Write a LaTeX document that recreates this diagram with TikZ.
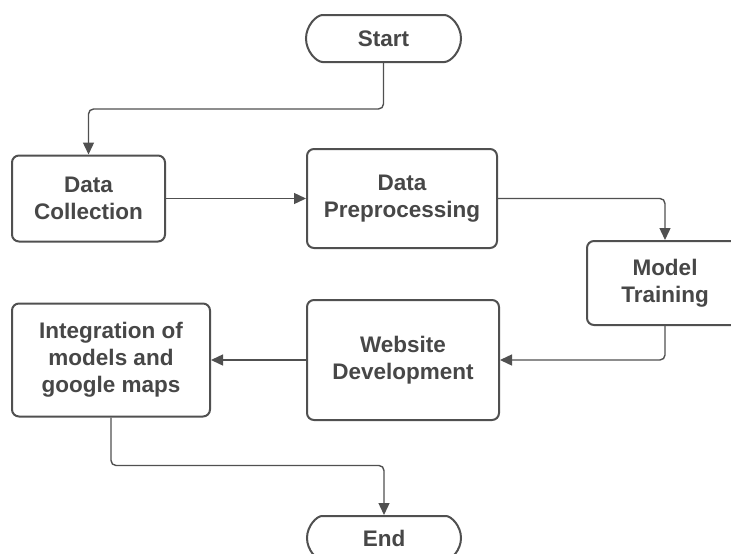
\documentclass[tikz,border=0pt]{standalone}
\usepackage{fontspec}
\setmainfont{Liberation Sans}
\usepackage{tikz}
\usetikzlibrary{arrows.meta, positioning, shapes.misc}

\definecolor{boxline}{HTML}{505050}
\definecolor{boxtext}{HTML}{474747}

\tikzset{
    stepbox/.style={draw=boxline, line width=2pt, rounded corners=7pt, fill=white,
        align=center, inner sep=0pt, text=boxtext,
        font=\fontsize{22.5}{27}\selectfont\bfseries},
    terminal/.style={stepbox, rounded rectangle},
    flow/.style={draw=boxline, line width=1.4pt, rounded corners=5pt,
        -{Triangle[length=12pt,width=11pt]}}
}

\begin{document}
\begin{tikzpicture}[x=1pt, y=-1pt]
            \useasboundingbox (0,0) rectangle (731,554);
            \clip (0,0) rectangle (731,554);

            % Terminals
            \node[terminal, minimum width=155pt, minimum height=47pt] (start) at (383.5,38.5) {Start};
            \node[terminal, minimum width=154pt, minimum height=44pt] (end) at (384,538) {End};

            % Steps
            \node[stepbox, minimum width=153pt, minimum height=86pt] (collect) at (88.5,198.5) {Data\\Collection};
            \node[stepbox, minimum width=190pt, minimum height=99pt] (prep) at (402,198.5) {Data\\Preprocessing};
            \node[stepbox, minimum width=156pt, minimum height=84pt] (train) at (665,283) {Model\\Training};
            \node[stepbox, minimum width=192pt, minimum height=120pt] (web) at (403,360) {Website\\Development};
            \node[stepbox, minimum width=198pt, minimum height=113pt] (integ) at (111,360) {Integration of\\models and\\google maps};

            % Connectors
            \draw[flow] (start.south) -- ++(0,46) -| (collect.north);
            \draw[flow] (collect.east) -- (prep.west);
            \draw[flow] (prep.east) -| (train.north);
            \draw[flow] (train.south) |- (web.east);
            \draw[flow] (web.west) -- (integ.east);
            \draw[flow] (integ.south) -- ++(0,48) -| (end.north);
        \end{tikzpicture}
\end{document}
